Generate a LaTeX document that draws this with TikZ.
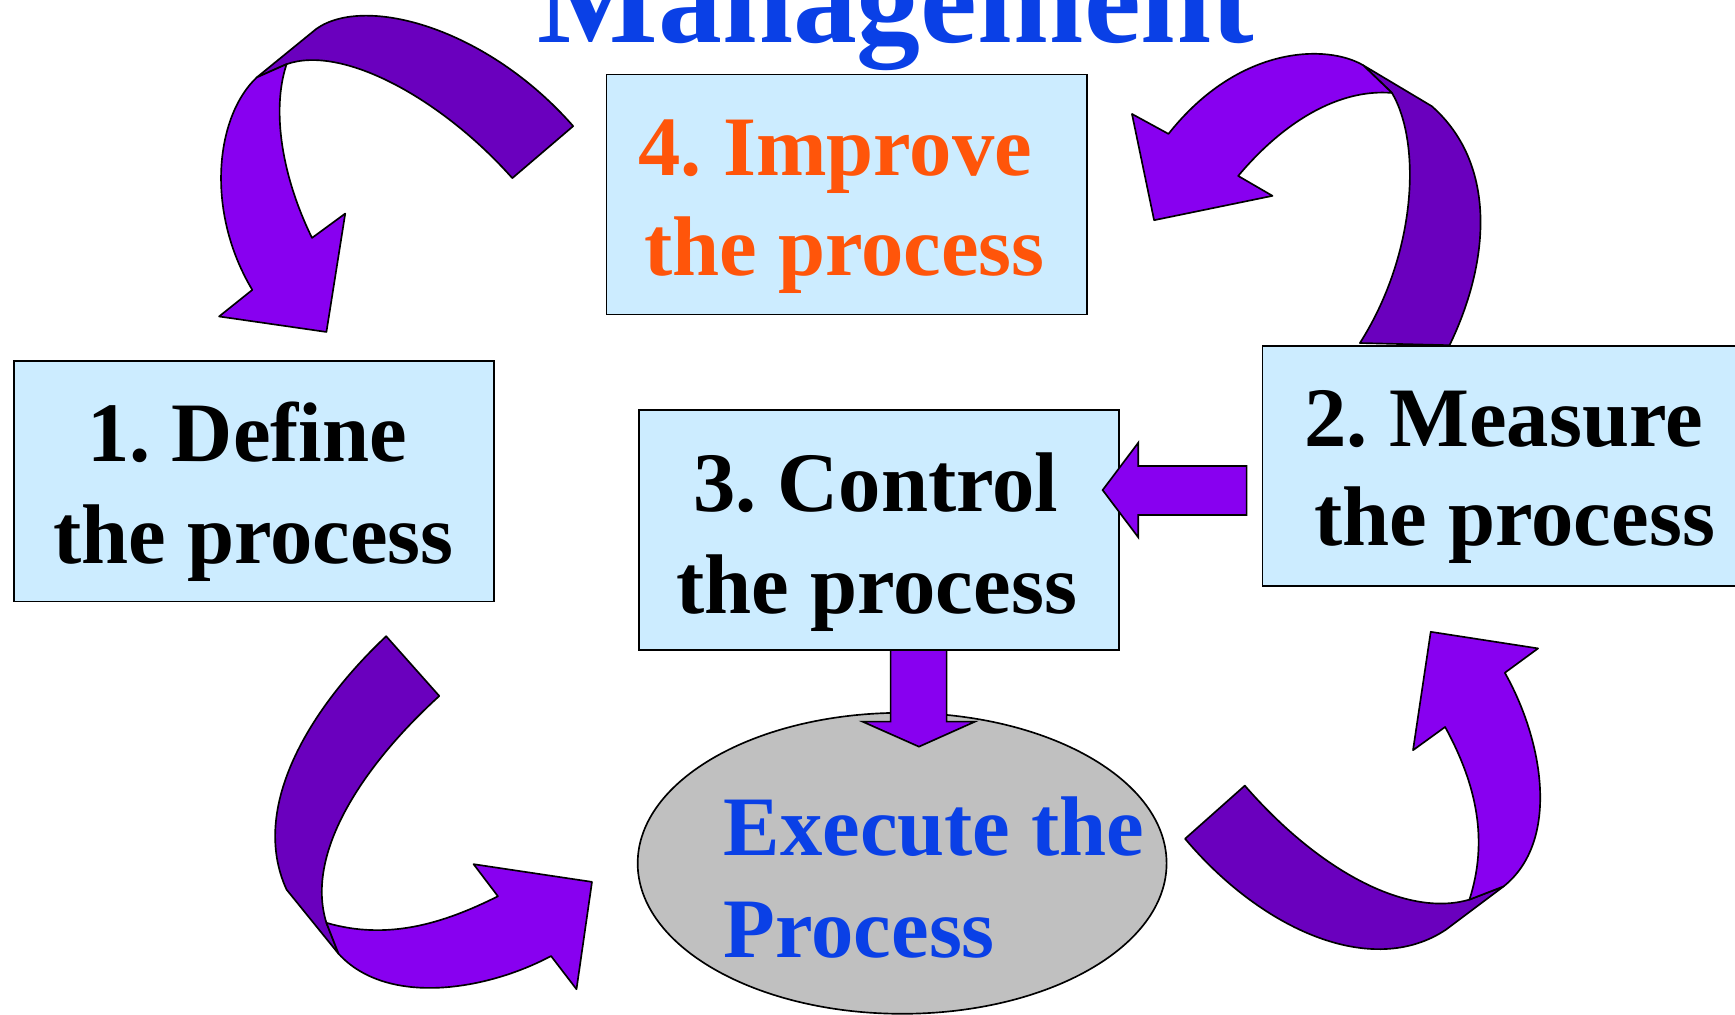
\documentclass[tikz,border=0pt]{standalone}
\usepackage{fontspec}
\setmainfont{Liberation Serif}
\frenchspacing
\usetikzlibrary{shapes.geometric}
\definecolor{boxfill}{RGB}{204,236,255}
\definecolor{orng}{RGB}{255,85,10}
\definecolor{blu}{RGB}{10,64,230}
\definecolor{pbright}{RGB}{136,0,240}
\definecolor{pdark}{RGB}{106,0,190}
\definecolor{gry}{RGB}{192,192,192}
\begin{document}
\begin{tikzpicture}[x=1pt,y=-1pt,
  box/.style={draw=black, line width=1.5pt, fill=boxfill, minimum width=434pt, minimum height=217pt, inner sep=0pt},
  txt/.style={inner sep=0pt, anchor=base, font=\fontsize{76.5}{90}\selectfont\bfseries\frenchspacing},
  bright/.style={fill=pbright, draw=black, line width=1.5pt, line join=round},
  dark/.style={fill=pdark, draw=black, line width=1.5pt, line join=round},
  blockarrow/.style={fill=pbright, draw=black, line width=1.5pt, line join=miter},
]
\useasboundingbox (0,0) rectangle (1568,917);
\clip (0,0) rectangle (1568,917);

% title
\node[inner sep=0pt, anchor=base, text=blu, font=\fontsize{115.5}{120}\selectfont\bfseries] (title) at (809.7,38.6) {Management};

% boxes
\node[box] (b1) at (229.6,435) {};
\node[box] (b2) at (1358,421) {};
\node[box] (b3) at (794.25,478.95) {};
\node[box] (b4) at (765.1,175.8) {};
\node[ellipse, draw=black, line width=1.5pt, fill=gry, minimum width=478pt, minimum height=272pt, inner sep=0pt] (ex) at (815.3,780.2) {};

% curved arrow: improve -> define (top left)
\draw[dark] (518,114) .. controls (440,25) and (330,-5) .. (286,26) -- (232,70) -- (259,58) .. controls (310,40) and (400,90) .. (463,161) -- cycle;
\draw[bright] (232,70) .. controls (195,105) and (185,190) .. (228,262) -- (198,286) -- (295,300) -- (312,193) -- (282,215) .. controls (255,160) and (245,100) .. (259,58) -- cycle;

% curved arrow: measure -> improve (top right)
\draw[dark] (1229,310) -- (1310,312) .. controls (1345,240) and (1355,150) .. (1294,96) -- (1232,59) -- (1258,84) .. controls (1285,130) and (1280,230) .. (1229,310) -- cycle;
\draw[bright] (1232,59) .. controls (1200,40) and (1120,40) .. (1056,121) -- (1023,103) -- (1043,199) -- (1150,177) -- (1119,159) .. controls (1160,110) and (1210,80) .. (1258,84) -- cycle;

% curved arrow: define -> execute (bottom left)
\draw[dark] (349,575) .. controls (280,640) and (225,730) .. (259,804) -- (306,862) -- (295,834) .. controls (275,770) and (330,690) .. (397,629) -- cycle;
\draw[bright] (295,834) .. controls (350,850) and (400,835) .. (450,810) -- (428,781) -- (535,797) -- (521,894) -- (498,864) .. controls (440,895) and (350,910) .. (306,862) -- cycle;

% curved arrow: execute -> measure (bottom right)
\draw[dark] (1071,758) .. controls (1140,840) and (1240,885) .. (1307,840) -- (1359,801) -- (1328,813) .. controls (1270,830) and (1190,785) .. (1125,710) -- cycle;
\draw[bright] (1328,813) .. controls (1345,760) and (1335,710) .. (1306,657) -- (1277,678) -- (1293,571) -- (1390,586) -- (1360,608) .. controls (1395,670) and (1410,760) .. (1359,801) -- cycle;

% straight block arrows
\coordinate (latail) at (1126.6,443.3);
\coordinate (latip) at (996.5,442.9);
\draw[blockarrow] (1126.6,421.2) -- (1028.7,421.2) -- (1028.7,400.1) -- (latip) -- (1028.7,485.6) -- (1028.7,465.4) -- (1126.6,465.4) -- cycle;
\coordinate (datip) at (830.5,674.8);
\draw[blockarrow] (804.9,587.4) -- (855.5,587.4) -- (855.5,652.2) -- (881.1,652.2) -- (datip) -- (779.6,652.2) -- (804.9,652.2) -- cycle;

% texts
\node[txt] (t1a) at (223.4,417.2) {1. Define};
\node[txt] (t1b) at (228.9,509.1) {the process};
\node[txt] (t2a) at (1358.9,403.6) {2. Measure};
\node[txt] (t2b) at (1368.9,493.4) {the process};
\node[txt] (t3a) at (791.5,462.4) {3. Control};
\node[txt] (t3b) at (792.3,554.3) {the process};
\node[txt, text=orng] (t4a) at (754.9,158.2) {4. Improve};
\node[txt, text=orng] (t4b) at (763.2,249.4) {the process};
\node[txt, anchor=base west, text=blu] (t5a) at (653.9,772.7) {Execute the};
\node[txt, anchor=base west, text=blu] (t5b) at (653.9,865.2) {Process};
\end{tikzpicture}
\end{document}
